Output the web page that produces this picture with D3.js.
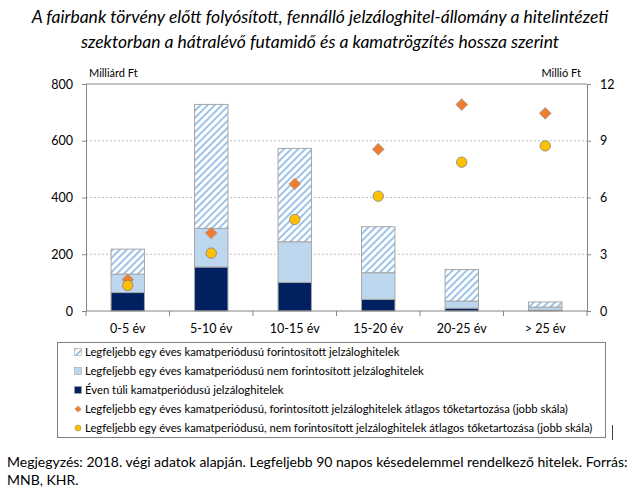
<!DOCTYPE html>
<html>
<head>
<meta charset="utf-8">
<script src="https://cdn.jsdelivr.net/npm/d3@7"></script>
<style>
  body { margin: 0; background: #fff; }
  text { font-family: Lato, "Open Sans", sans-serif; }
</style>
</head>
<body>
<svg id="chart" width="640" height="500"></svg>
<script>
// categories and values (left scale: Milliárd Ft, right scale: Millió Ft)
const categories = ["0-5 év", "5-10 év", "10-15 év", "15-20 év", "20-25 év", "> 25 év"];
const overOneYear = [65, 155, 101, 41, 10, 3];          // Éven túli kamatperiódusú
const notConverted = [65, 136, 143, 94, 25, 11];        // nem forintosított
const converted = [88, 437, 329, 162, 111, 18];         // forintosított (hatched)
const avgConverted = [1.65, 4.12, 6.72, 8.55, 10.91, 10.45];
const avgNotConverted = [1.35, 3.06, 4.84, 6.07, 7.87, 8.73];
const leftTicks = [0, 200, 400, 600, 800];
const rightTicks = [0, 3, 6, 9, 12];

const legendLabels = [
  "Legfeljebb egy éves kamatperiódusú forintosított jelzáloghitelek",
  "Legfeljebb egy éves kamatperiódusú nem forintosított jelzáloghitelek",
  "Éven túli kamatperiódusú jelzáloghitelek",
  "Legfeljebb egy éves kamatperiódusú, forintosított jelzáloghitelek átlagos tőketartozása (jobb skála)",
  "Legfeljebb egy éves kamatperiódusú, nem forintosított jelzáloghitelek átlagos tőketartozása (jobb skála)"
];

const svg = d3.select("#chart");
const margin = { top: 84, right: 53, bottom: 189, left: 86 };
const width = 640 - margin.left - margin.right;
const height = 500 - margin.top - margin.bottom;

const defs = svg.append("defs");
const pat = defs.append("pattern")
  .attr("id", "hatch")
  .attr("patternUnits", "userSpaceOnUse")
  .attr("width", 5).attr("height", 5)
  .attr("patternTransform", "rotate(45)");
pat.append("rect").attr("width", 5).attr("height", 5).attr("fill", "#fff");
pat.append("rect").attr("width", 2).attr("height", 5).attr("fill", "#9dc3e6");

// title
svg.append("g").selectAll("text")
  .data(["A fairbank törvény előtt folyósított, fennálló jelzáloghitel-állomány a hitelintézeti",
         "szektorban a hátralévő futamidő és a kamatrögzítés hossza szerint"])
  .join("text")
  .attr("x", 320)
  .attr("y", (d, i) => 23 + i * 25)
  .attr("text-anchor", "middle")
  .attr("font-size", 17.5)
  .attr("font-style", "italic")
  .text(d => d);

const chart = svg.append("g")
  .attr("transform", `translate(${margin.left},${margin.top})`);

const x = d3.scaleBand().domain(categories).range([0, width]).paddingInner(0.6).paddingOuter(0.3);
const xEdges = d3.scaleBand().domain(categories).range([0, width]);
const y = d3.scaleLinear().domain([0, 800]).range([height, 0]);
const y2 = d3.scaleLinear().domain([0, 12]).range([height, 0]);

// gridlines
chart.append("g").selectAll("line")
  .data(leftTicks.filter(t => t > 0 && t < 800))
  .join("line")
  .attr("x1", 0).attr("x2", width)
  .attr("y1", d => y(d)).attr("y2", d => y(d))
  .attr("stroke", "#bfbfbf")
  .attr("stroke-dasharray", "2,2");
chart.append("line")
  .attr("x1", 0).attr("x2", width)
  .attr("y1", 0).attr("y2", 0)
  .attr("stroke", "#868686");

// stacked bars
const stackData = categories.map((c, i) => ({
  cat: c, dark: overOneYear[i], light: notConverted[i], hatch: converted[i]
}));
const stack = d3.stack().keys(["dark", "light", "hatch"])(stackData);
const fills = { dark: "#002060", light: "#bdd7ee", hatch: "url(#hatch)" };

chart.append("g").selectAll("g")
  .data(stack)
  .join("g")
  .attr("fill", d => fills[d.key])
  .selectAll("rect")
  .data(d => d)
  .join("rect")
  .attr("x", d => x(d.data.cat))
  .attr("y", d => y(d[1]))
  .attr("width", x.bandwidth())
  .attr("height", d => y(d[0]) - y(d[1]))
  .attr("stroke", "#a6a6a6")
  .attr("stroke-width", 1);

// axes
const xAxis = chart.append("g")
  .attr("transform", `translate(0,${height})`);
xAxis.append("line").attr("x1", 0).attr("x2", width).attr("stroke", "#868686");
xAxis.selectAll(".tk")
  .data(categories.map(c => xEdges(c)).concat([width]))
  .join("line")
  .attr("x1", d => d).attr("x2", d => d)
  .attr("y1", 0).attr("y2", 5)
  .attr("stroke", "#868686");
xAxis.selectAll("text")
  .data(categories)
  .join("text")
  .attr("x", d => xEdges(d) + xEdges.bandwidth() / 2)
  .attr("y", 22)
  .attr("text-anchor", "middle")
  .attr("font-size", 12.5)
  .text(d => d);

const yAxis = chart.append("g")
  .call(d3.axisLeft(y).tickValues(leftTicks).tickSize(4).tickPadding(9));
const y2Axis = chart.append("g")
  .attr("transform", `translate(${width},0)`)
  .call(d3.axisRight(y2).tickValues(rightTicks).tickSize(4).tickPadding(9));
[yAxis, y2Axis].forEach(a => {
  a.select(".domain").attr("stroke", "#868686");
  a.selectAll(".tick line").attr("stroke", "#868686");
  a.selectAll(".tick text").attr("font-size", 12.5).attr("fill", "#000")
    .attr("font-family", "Lato, sans-serif");
});

chart.append("text").attr("x", 3).attr("y", -7).attr("font-size", 11).text("Milliárd Ft");
chart.append("text").attr("x", width - 6).attr("y", -7).attr("font-size", 11)
  .attr("text-anchor", "end").text("Millió Ft");

// markers (right scale)
const cx = c => xEdges(c) + xEdges.bandwidth() / 2;
chart.append("g").selectAll("path")
  .data(avgConverted)
  .join("path")
  .attr("d", d3.symbol(d3.symbolDiamond2, 90))
  .attr("transform", (d, i) => `translate(${cx(categories[i])},${y2(d)})`)
  .attr("fill", "#ed7d31")
  .attr("stroke", "#a6a6a6")
  .attr("stroke-width", 0.8);
chart.append("g").selectAll("circle")
  .data(avgNotConverted)
  .join("circle")
  .attr("cx", (d, i) => cx(categories[i]))
  .attr("cy", d => y2(d))
  .attr("r", 5.2)
  .attr("fill", "#ffc000")
  .attr("stroke", "#7f7f7f")
  .attr("stroke-width", 0.8);

// legend
const legend = svg.append("g");
legend.append("rect")
  .attr("x", 57.5).attr("y", 342.5).attr("width", 548).attr("height", 95)
  .attr("fill", "none").attr("stroke", "#7f7f7f");
const items = legend.selectAll("g")
  .data(legendLabels)
  .join("g")
  .attr("transform", (d, i) => `translate(78,${352 + i * 19})`);
items.each(function (d, i) {
  const g = d3.select(this);
  if (i < 3) {
    g.append("rect").attr("x", -3.5).attr("y", -3.5).attr("width", 7).attr("height", 7)
      .attr("fill", [ "url(#hatch)", "#bdd7ee", "#002060" ][i])
      .attr("stroke", "#a6a6a6").attr("stroke-width", 0.6);
  } else if (i === 3) {
    g.append("path").attr("d", d3.symbol(d3.symbolDiamond2, 28))
      .attr("fill", "#ed7d31").attr("stroke", "#a6a6a6").attr("stroke-width", 0.5);
  } else {
    g.append("circle").attr("r", 3).attr("fill", "#ffc000")
      .attr("stroke", "#7f7f7f").attr("stroke-width", 0.5);
  }
});
items.append("text")
  .attr("x", 7).attr("y", 4)
  .attr("font-size", 11.3)
  .text(d => d);

svg.append("line").attr("x1", 612.5).attr("x2", 612.5).attr("y1", 425).attr("y2", 440)
  .attr("stroke", "#404040");

// footnote
svg.append("g").selectAll("text")
  .data(["Megjegyzés: 2018. végi adatok alapján. Legfeljebb 90 napos késedelemmel rendelkező hitelek. Forrás:",
         "MNB, KHR."])
  .join("text")
  .attr("x", 7)
  .attr("y", (d, i) => 467 + i * 18)
  .attr("font-size", 14)
  .text(d => d);
</script>
</body>
</html>
